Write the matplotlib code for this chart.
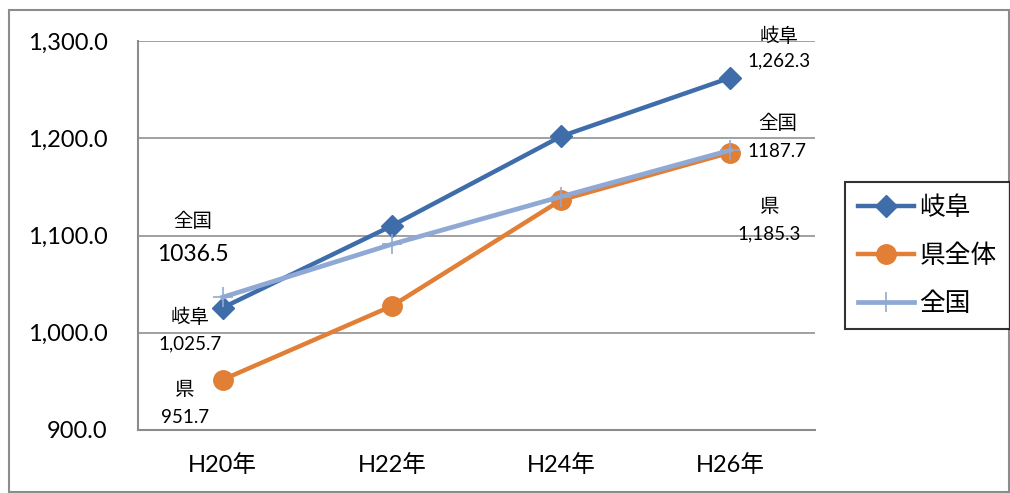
import matplotlib
matplotlib.use("Agg")
import matplotlib.pyplot as plt
from matplotlib.patches import Rectangle
from matplotlib.ticker import FuncFormatter

plt.rcParams['font.family'] = ['Lato', 'Noto Sans CJK JP', 'DejaVu Sans']

years = ["H20年", "H22年", "H24年", "H26年"]
gifu = [1025.7, 1110.0, 1202.0, 1262.3]
pref = [951.7, 1027.5, 1136.5, 1185.3]
nation = [1036.5, 1091.0, 1140.0, 1187.7]

c_gifu = "#3F6DAA"
c_pref = "#E07F35"
c_nation = "#8FA9D4"

W, H = 1010, 493
fig = plt.figure(figsize=(W / 100, H / 100), dpi=100)
fig.patch.set_facecolor("white")

# outer frame
fig.patches.append(Rectangle((9 / W, 1 / H), (W - 10) / W, (H - 11) / H,
                             transform=fig.transFigure, fill=False,
                             edgecolor="#8C8C8C", linewidth=1.5))

L, R, T, B = 138, 815, 41, 430
ax = fig.add_axes([L / W, 1 - B / H, (R - L) / W, (B - T) / H])

x = list(range(len(years)))
ax.plot(x, gifu, color=c_gifu, lw=3.2, marker="D", ms=11, label="岐阜", zorder=3)
ax.plot(x, pref, color=c_pref, lw=3.2, marker="o", ms=14, label="県全体", zorder=3)
ax.plot(x, nation, color=c_nation, lw=3.4, marker="+", ms=14, mew=1.2,
        label="全国", zorder=4)

ax.set_xlim(-0.5, 3.5)
ax.set_ylim(900, 1300)
ax.set_yticks([900, 1000, 1100, 1200, 1300])
ax.yaxis.set_major_formatter(FuncFormatter(lambda v, p: f"{v:,.1f}"))
ax.set_xticks(x)
ax.set_xticklabels(years)
ax.tick_params(axis="y", length=0, labelsize=17, pad=22)
ax.tick_params(axis="x", length=0, labelsize=17, pad=17)
ax.grid(axis="y", color="#A0A0A0", lw=1.4)
ax.set_axisbelow(True)
for s in ("top", "right"):
    ax.spines[s].set_visible(False)
for s in ("left", "bottom"):
    ax.spines[s].set_color("#8C8C8C")
    ax.spines[s].set_linewidth(1.5)


def label(i, val, name, text, dx, dy1, dy2, size=13.5):
    ax.annotate(name, xy=(i, val), xytext=(dx, dy1), textcoords="offset pixels",
                ha="center", va="center", fontsize=14)
    ax.annotate(text, xy=(i, val), xytext=(dx, dy2), textcoords="offset pixels",
                ha="center", va="center", fontsize=size)


label(0, nation[0], "全国", f"{nation[0]:.1f}", -30, 76, 43, size=16.5)
label(0, gifu[0], "岐阜", f"{gifu[0]:,.1f}", -33, -9, -36)
label(0, pref[0], "県", f"{pref[0]:,.1f}", -38, -10, -38)
label(3, gifu[3], "岐阜", f"{gifu[3]:,.1f}", 49, 42, 17)
label(3, nation[3], "全国", f"{nation[3]:.1f}", 47, 27, -1)
label(3, pref[3], "県", f"{pref[3]:,.1f}", 39, -54, -81)

leg = fig.legend(loc="upper left", bbox_to_anchor=(845 / W, 1 - 182 / H),
                 frameon=True, fancybox=False, fontsize=18.5, handlelength=2.2,
                 borderpad=0.5, labelspacing=0.9, handletextpad=0.2,
                 borderaxespad=0)
leg.get_frame().set_edgecolor("black")
leg.get_frame().set_linewidth(1.5)

fig.savefig("out.png", dpi=100)
